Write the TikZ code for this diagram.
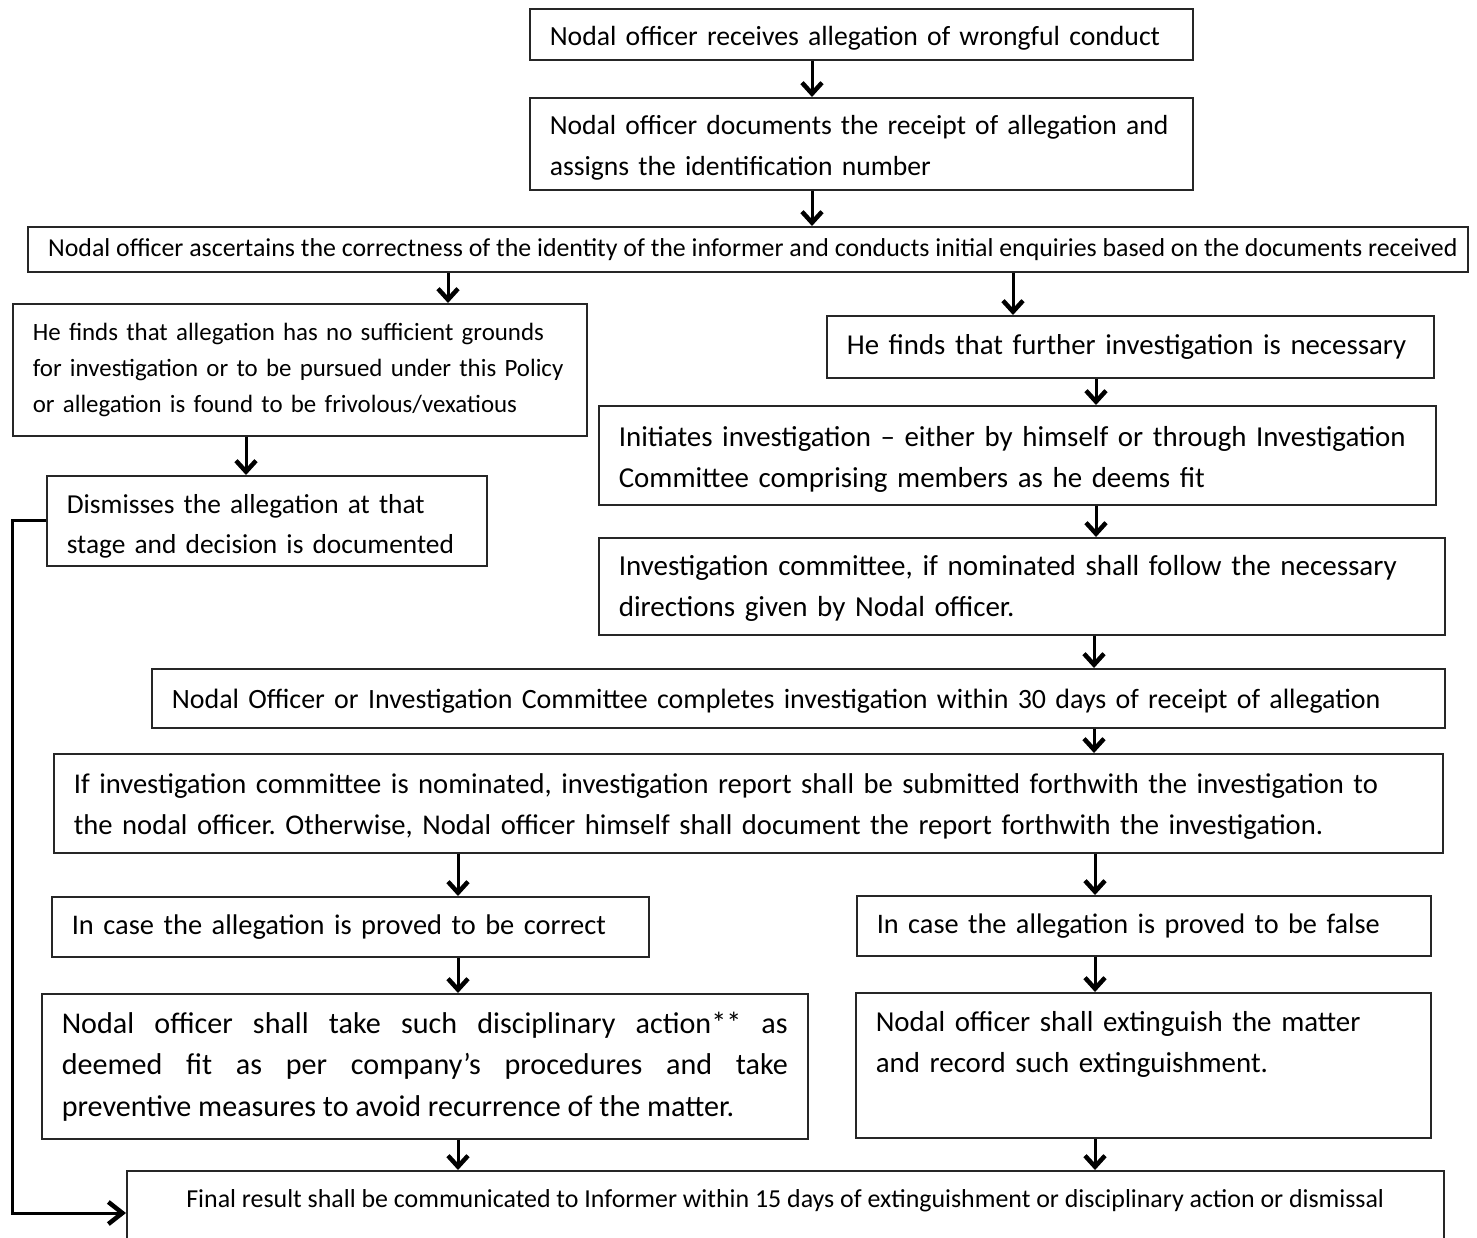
\documentclass[tikz,border=0pt]{standalone}
\usepackage{fontspec}
\setmainfont{Carlito}
\usetikzlibrary{arrows.meta}
\newcommand\fsz[2]{\fontsize{#1}{#2}\selectfont}
\frenchspacing
\begin{document}
\begin{tikzpicture}[x=1pt,y=-1pt,
 box/.style={draw=black!85, line width=1.6pt, anchor=north west, inner xsep=20pt, inner ysep=0pt, align=left},
 cbox/.style={draw=black!85, line width=1.6pt, anchor=north west, inner xsep=0pt, inner ysep=0pt, align=center},
 arr/.style={line width=3pt, -{Straight Barb[length=11pt,width=20pt,line width=4.5pt]}},
 fbarr/.style={line width=3pt, -{Straight Barb[length=14pt,width=22pt,line width=4.5pt]}},
]
\fill[white] (0,0) rectangle (1477,1237);
\useasboundingbox (0,0) rectangle (1477,1237);

% boxes
\node[box, font=\fsz{27.7}{40.5}, text height=28pt, text width=623pt, minimum height=51pt] (n1) at (529,8) {\mbox{Nodal officer receives allegation of wrongful conduct}};
\node[box, font=\fsz{27.6}{40.5}, text height=27pt, text width=623pt, minimum height=92pt] (n2) at (529,97) {\mbox{Nodal officer documents the receipt of allegation and}\\ \mbox{assigns the identification number}};
\node[cbox, font=\fsz{25.85}{36}, minimum width=1440pt, minimum height=45pt] (n3) at (27,226) {\hspace*{10pt}\mbox{Nodal officer ascertains the correctness of the identity of the informer and conducts initial enquiries based on the documents received}};
\node[box, font=\fsz{24.9}{36}, text width=534pt, minimum height=132pt] (na) at (12,303) {\mbox{He finds that allegation has no sufficient grounds}\\ \mbox{for investigation or to be pursued under this Policy}\\ \mbox{or allegation is found to be frivolous/vexatious}};
\node[box, font=\fsz{28.8}{40.5}, text width=567pt, minimum height=62pt] (nb) at (826,315) {\mbox{He finds that further investigation is necessary}};
\node[box, font=\fsz{27.4}{40}, text height=30pt, text width=400pt, minimum height=90pt] (na2) at (46,475) {\mbox{Dismisses the allegation at that}\\ \mbox{stage and decision is documented}};
\node[box, font=\fsz{28.9}{41}, text height=29pt, text width=797pt, minimum height=99pt] (nc) at (598,405) {\mbox{Initiates investigation -- either by himself or through Investigation}\\ \mbox{Committee comprising members as he deems fit}};
\node[box, font=\fsz{29}{41}, text height=25pt, text width=806pt, minimum height=97pt] (nd) at (598,537) {\mbox{Investigation committee, if nominated shall follow the necessary}\\ \mbox{directions given by Nodal officer.}};
\node[box, font=\fsz{27.95}{40.5}, text height=26pt, text width=1253pt, minimum height=59pt] (ne) at (151,668) {\mbox{Nodal Officer or Investigation Committee completes investigation within 30 days of receipt of allegation}};
\node[box, font=\fsz{28.6}{41}, text height=27pt, text width=1349pt, minimum height=99pt] (nf) at (53,753) {\mbox{If investigation committee is nominated, investigation report shall be submitted forthwith the investigation to}\\ \mbox{the nodal officer. Otherwise, Nodal officer himself shall document the report forthwith the investigation.}};
\node[box, font=\fsz{28.45}{40.5}, text width=557pt, minimum height=60pt] (ng) at (51,896) {\mbox{In case the allegation is proved to be correct}};
\node[box, font=\fsz{28.3}{40.5}, text width=534pt, minimum height=60pt] (nh) at (856,895) {\mbox{In case the allegation is proved to be false}};
\node[box, font=\fsz{30.1}{41.5}, align=justify, text width=726pt, minimum height=145pt] (ni) at (41,993) {Nodal officer shall take such disciplinary action** as\linebreak deemed fit as per company's procedures and take\linebreak \mbox{preventive measures to avoid recurrence of the matter.}};
\node[box, font=\fsz{28.9}{41}, text height=27pt, text width=535pt, minimum height=145pt] (nj) at (855,992) {\mbox{Nodal officer shall extinguish the matter}\\ \mbox{and record such extinguishment.}\\ \strut};
\node[cbox, font=\fsz{25.9}{36}, minimum width=1317pt, minimum height=102pt] (nk) at (126,1170) {\mbox{Final result shall be communicated to Informer within 15 days of extinguishment or disciplinary action or dismissal}\\ \strut};

% arrow columns
\coordinate (xa) at (812,0);
\coordinate (xb) at (448,0);
\coordinate (xc) at (1013,0);
\coordinate (xd) at (246,0);
\coordinate (xe) at (1096,0);
\coordinate (xf) at (1094,0);
\coordinate (xg) at (458,0);
\coordinate (xh) at (1095,0);
\coordinate (xl) at (12,0);
\coordinate (yl) at (0,1213);

\draw[arr] (n1.south -| xa) -- (n2.north -| xa);
\draw[arr] (n2.south -| xa) -- (n3.north -| xa);
\draw[arr] (n3.south -| xb) -- (na.north -| xb);
\draw[arr] (n3.south -| xc) -- (nb.north -| xc);
\draw[arr] (na.south -| xd) -- (na2.north -| xd);
\draw[arr] (nb.south -| xe) -- (nc.north -| xe);
\draw[arr] (nc.south -| xe) -- (nd.north -| xe);
\draw[arr] (nd.south -| xf) -- (ne.north -| xf);
\draw[arr] (ne.south -| xf) -- (nf.north -| xf);
\draw[arr] (nf.south -| xg) -- (ng.north -| xg);
\draw[arr] (nf.south -| xh) -- (nh.north -| xh);
\draw[arr] (ng.south -| xg) -- (ni.north -| xg);
\draw[arr] (nh.south -| xh) -- (nj.north -| xh);
\draw[arr] (ni.south -| xg) -- (nk.north -| xg);
\draw[arr] (nj.south -| xh) -- (nk.north -| xh);
\draw[fbarr] (na2.west) -- (na2.west -| xl) -- (xl |- yl) -- (nk.west |- yl);
\end{tikzpicture}
\end{document}
